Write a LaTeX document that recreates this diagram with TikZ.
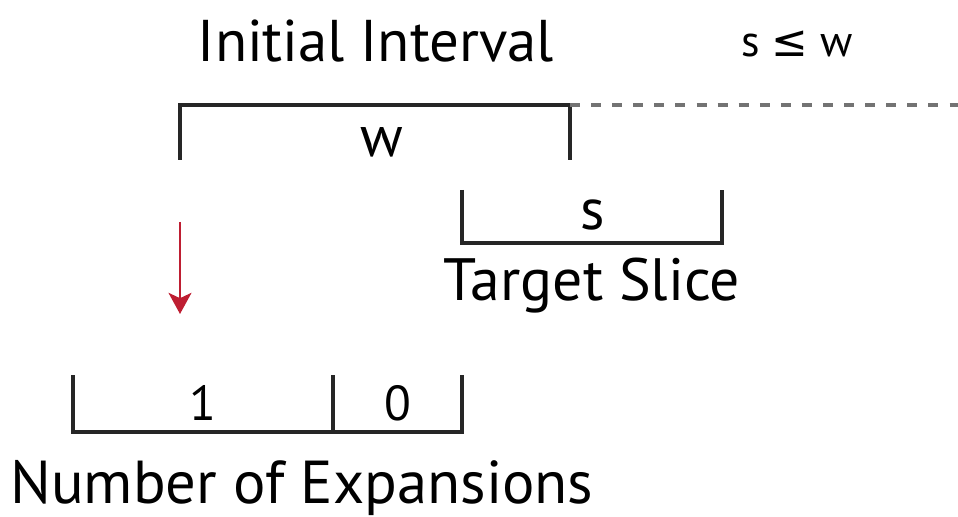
\documentclass[tikz,border=0pt]{standalone}
\usepackage{fontspec}
\setmainfont{PT Sans}
\newfontfamily\symfont{DejaVu Sans}
\usetikzlibrary{arrows.meta}
\definecolor{arrowred}{RGB}{190,30,50}
\tikzset{
  bracket/.style={line width=2pt, black!85},
  title/.style={font=\fontsize{33.5}{38}\selectfont, anchor=base, inner sep=0pt},
  lbl/.style={font=\fontsize{33}{36}\selectfont, anchor=base, inner sep=0pt},
  digit/.style={font=\fontsize{28}{32}\selectfont, anchor=base, inner sep=0pt},
}
\begin{document}
\begin{tikzpicture}[x=0.02cm, y=-0.02cm]
\useasboundingbox (0,0) rectangle (958,517);
% initial interval
\node[title] (initial) at (376,62) {Initial Interval};
\node[font=\fontsize{25}{28}\selectfont, anchor=base, inner sep=0pt] (cond) at (797,57) {s {\symfont≤} w};
\coordinate (wl) at (180,160);
\coordinate (wr) at (570,160);
\draw[bracket] (wl) |- (375,105) -| (wr);
\draw[line width=1.8pt, black!55, dash pattern=on 5.7pt off 6.3pt] (wr |- 0,105) -- (958,105);
\node[lbl] (w) at (382,157) {w};
% target slice
\coordinate (sl) at (462,190);
\coordinate (sr) at (722,190);
\draw[bracket] (sl) |- (592,243) -| (sr);
\node[lbl] (s) at (593,230) {s};
\node[title, font=\fontsize{34}{38}\selectfont] (target) at (592,300) {Target Slice};
% arrow
\coordinate (a1) at (180,222);
\coordinate (a2) at (180,314);
\draw[line width=1.6pt, arrowred, -{Stealth[length=12pt, width=13pt, inset=3pt]}] (a1) -- (a2);
% expansions
\coordinate (el) at (73,375);
\coordinate (er) at (462,375);
\coordinate (em) at (333,375);
\draw[bracket] (el) |- (300,432) -| (er);
\draw[bracket] (em) -- (em |- 0,432);
\node[digit] (one) at (203,420) {1};
\node[digit] (zero) at (398,420) {0};
\node[title, font=\fontsize{34.5}{38}\selectfont] (expansions) at (302,503) {Number of Expansions};
\end{tikzpicture}
\end{document}
